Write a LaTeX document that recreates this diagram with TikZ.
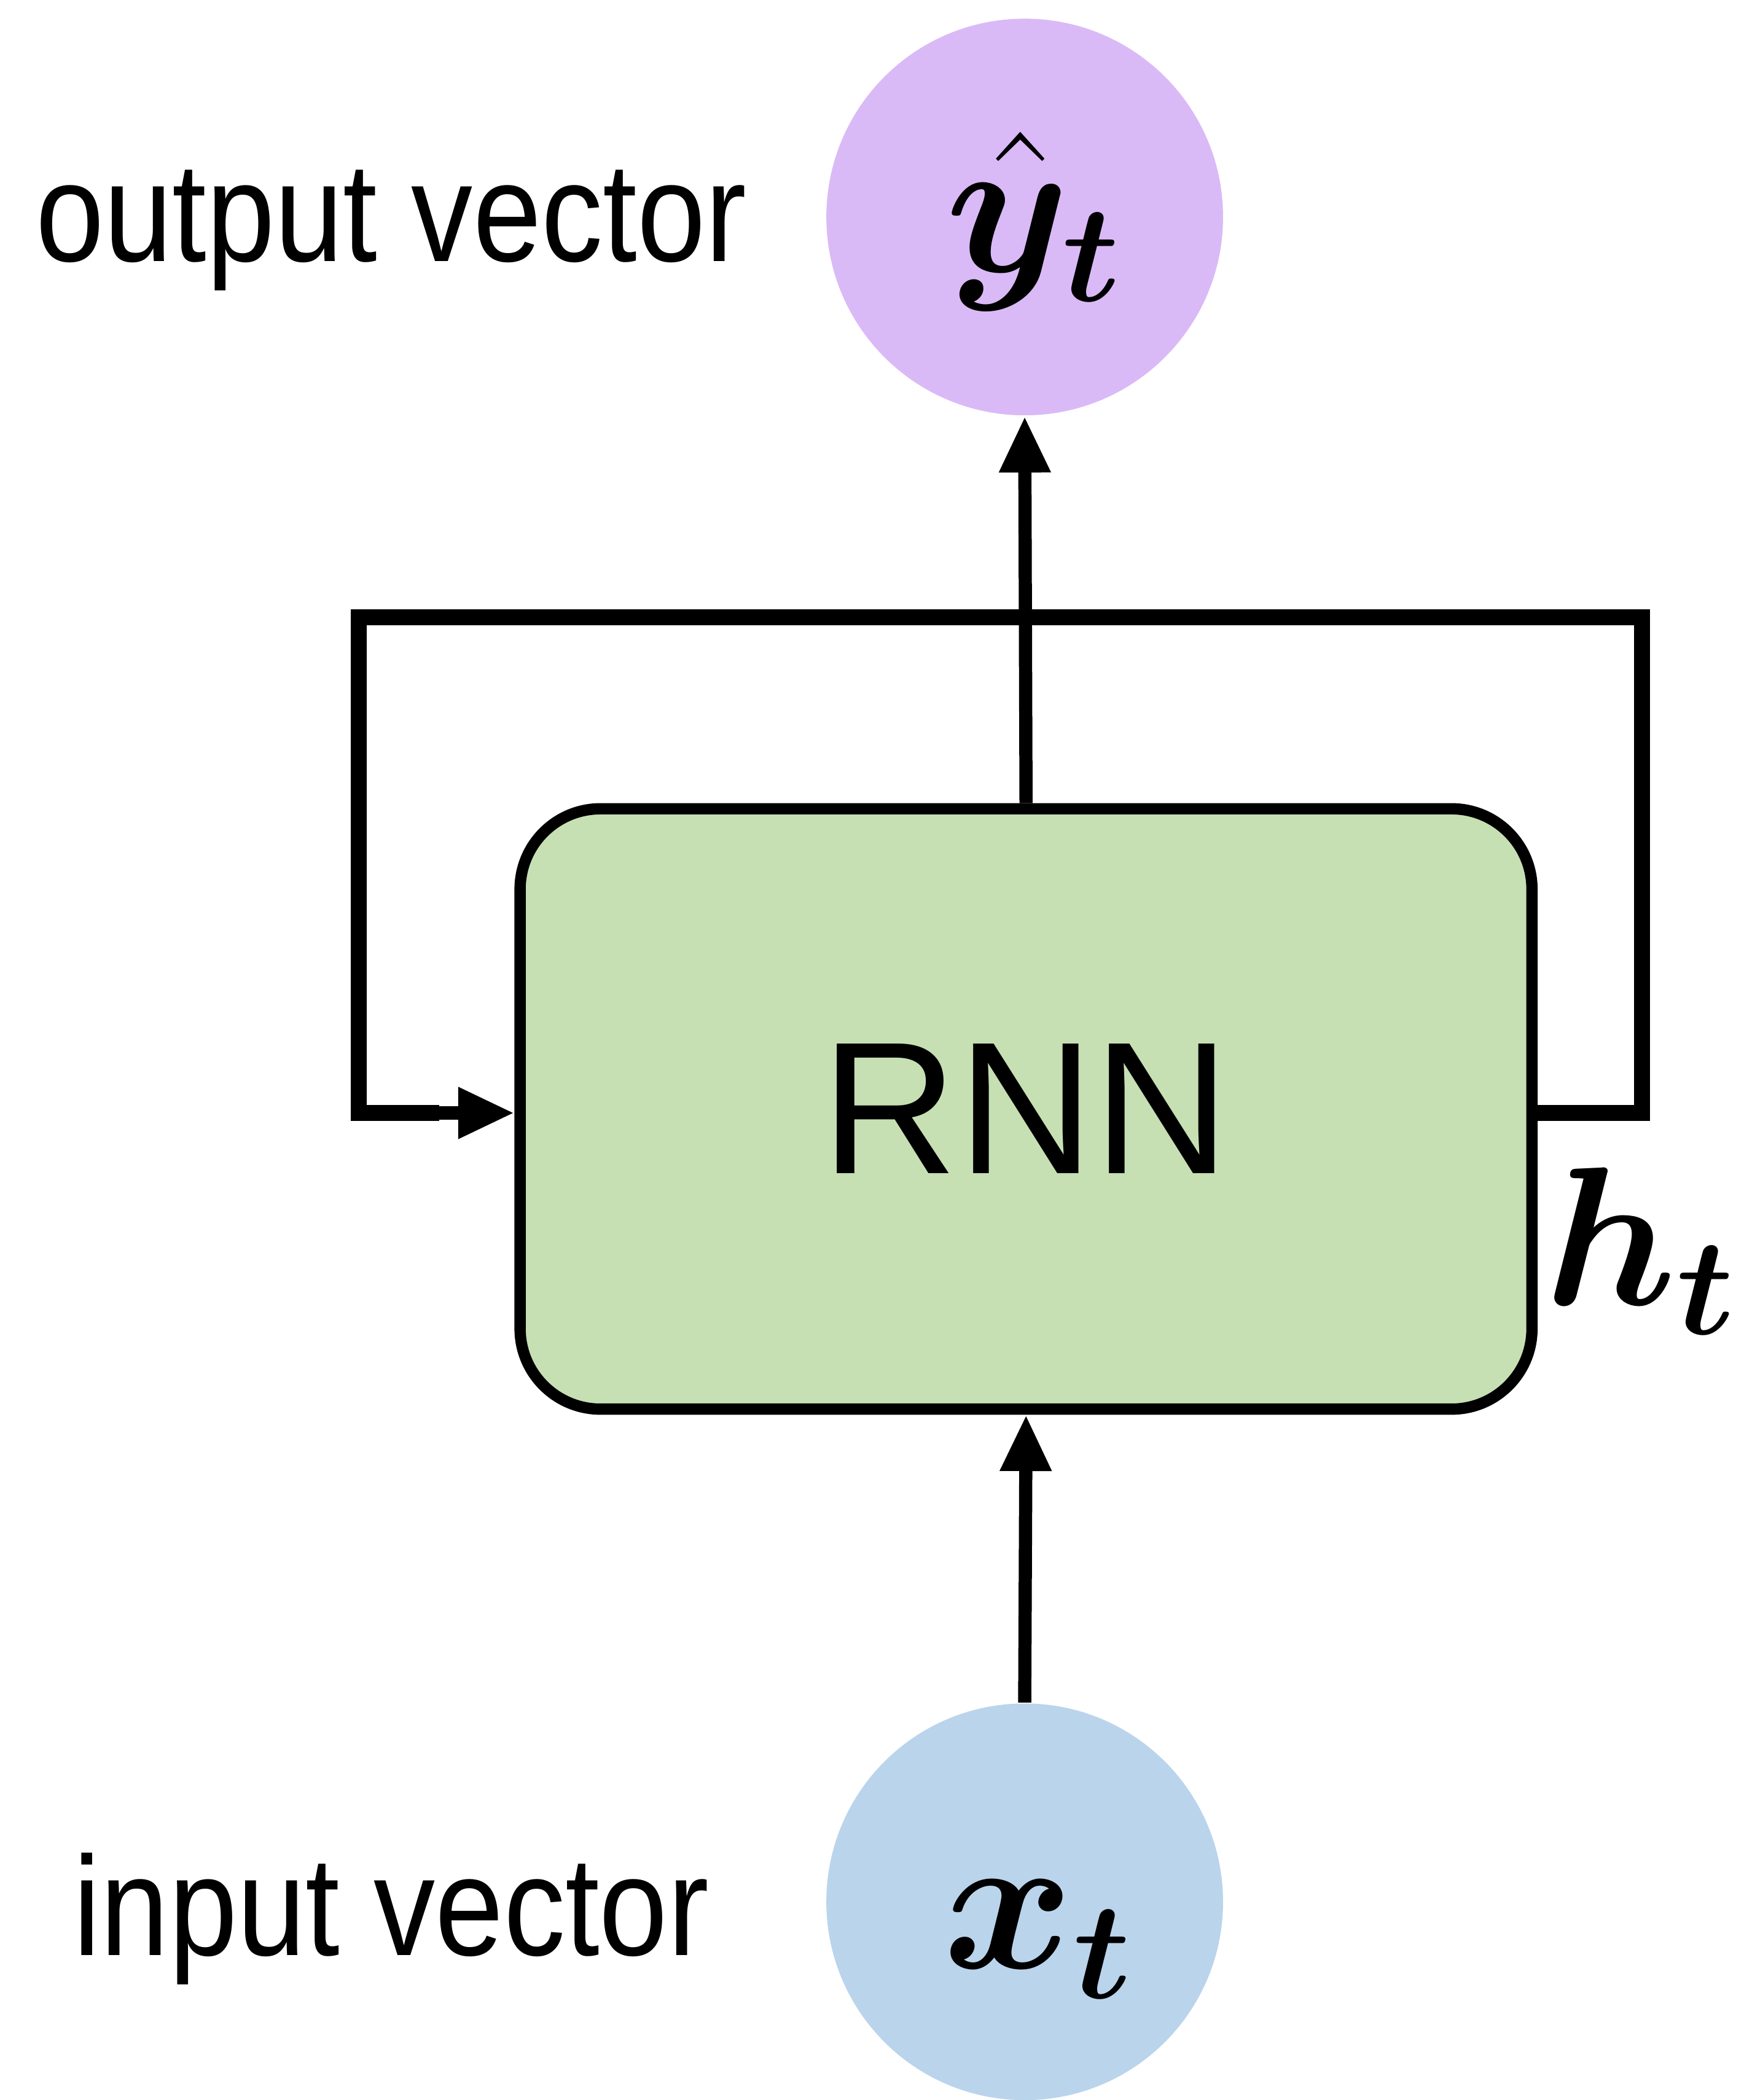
\RequirePackage{fix-cm}
\documentclass[tikz,border=0pt]{standalone}
\usepackage{fontspec}
\usepackage{bm}
\setsansfont{Liberation Sans}
\usetikzlibrary{arrows.meta}
\definecolor{outpurple}{RGB}{218,186,246}
\definecolor{inblue}{RGB}{186,212,236}
\definecolor{rnngreen}{RGB}{198,224,180}
\tikzset{
  vec/.style={circle, minimum size=2.96cm, inner sep=0pt},
  sym/.style={inner sep=0pt, font=\fontsize{42}{50}\selectfont},
  cell/.style={rectangle, rounded corners=0.6cm, draw=black, line width=2.4pt, fill=rnngreen,
    minimum width=7.55cm, minimum height=4.48cm, inner sep=0pt,
    font=\sffamily\fontsize{40}{48}\selectfont},
  lbl/.style={font=\sffamily\fontsize{30}{36}\selectfont, inner sep=0pt, anchor=base},
  conn/.style={line width=2.8pt, -{Triangle[length=0.42cm,width=0.36cm]}},
  loop/.style={line width=3.4pt, line join=miter},
}
\begin{document}
\begin{tikzpicture}[x=0.01cm,y=-0.01cm]
\useasboundingbox (0,0) rectangle (1302,1568);
\node[vec, fill=outpurple] (out) at (765,162) {};
\node[vec, fill=inblue] (in) at (765,1420) {};
\node[sym] (ysym) at (772,165) {$\bm{\hat{y}_t}$};
\node[sym] (xsym) at (775,1448) {$\bm{x_t}$};
\node[cell] (rnn) at (766,828) {RNN};
\node[lbl] (outl) at (292,195) {\scalebox{0.87}[1]{output vector}};
\node[lbl] (inl) at (292,1460) {\scalebox{0.87}[1]{input vector}};
\node[sym] (h) at (1225,934) {$\bm{h_t}$};
\coordinate (tl) at (268,461);
\coordinate (tr) at (1226,461);
\draw[loop] (rnn.east |- 0,831) -- (1226,831) -- (tr) -- (tl) -- (268,831)
  -- ++(60,0);
\draw[conn] (268,831) -- (rnn.west |- 0,831);
\draw[conn] (rnn.north) -- (out.south);
\draw[conn] (in.north) -- (rnn.south);
\end{tikzpicture}
\end{document}
